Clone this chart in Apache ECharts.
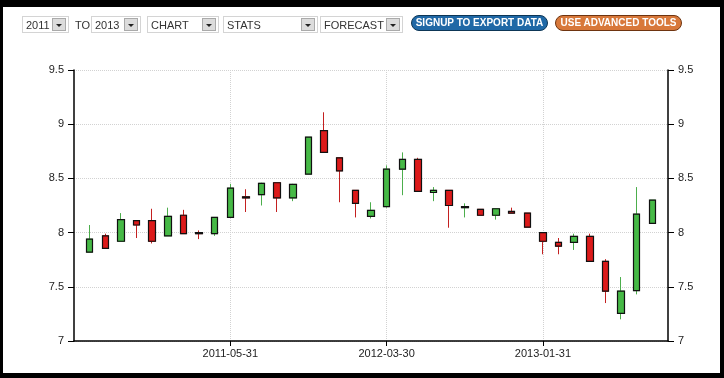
<!DOCTYPE html>
<html>
<head>
<meta charset="utf-8">
<script src="https://cdn.jsdelivr.net/npm/echarts@6/dist/echarts.min.js"></script>
<style>
  html, body { margin: 0; padding: 0; background: #000; }
  #frame { position: absolute; left: 3px; top: 7px; right: 4px; bottom: 5px; background: #fff; }
  #container { position: absolute; left: 0; top: 0; width: 724px; height: 378px; }
  .bar { position: absolute; left: 0; top: 0; width: 724px; height: 40px; font-family: "Liberation Sans", Arial, sans-serif; font-size: 11px; color: #333; }
  .sel { position: absolute; top: 16px; height: 17px; border: 1px solid #d4d4d4; background: #fff; box-sizing: border-box; }
  .sel span { position: absolute; left: 3px; top: 1px; line-height: 14px; }
  .sel i { position: absolute; right: 2px; top: 1px; width: 14px; height: 13px; background: #dcdcdc; border: 1px solid #aaa; box-sizing: border-box; }
  .sel i:after { content: ""; position: absolute; left: 3px; top: 5px; border-left: 3px solid transparent; border-right: 3px solid transparent; border-top: 3px solid #222; }
  .txt { position: absolute; top: 18px; line-height: 14px; }
  .pill { position: absolute; top: 15px; height: 16px; border-radius: 8px; box-sizing: border-box; color: #fff; font-weight: bold; font-size: 10px; line-height: 14px; text-align: center; }
</style>
</head>
<body>
<div id="frame"></div>
<div id="container"></div>
<div class="bar">
  <div class="sel" style="left:22px;width:47px"><span>2011</span><i></i></div>
  <div class="txt" style="left:75px">TO</div>
  <div class="sel" style="left:91px;width:50px"><span>2013</span><i></i></div>
  <div class="sel" style="left:147px;width:72px"><span>CHART</span><i></i></div>
  <div class="sel" style="left:223px;width:95px"><span>STATS</span><i></i></div>
  <div class="sel" style="left:320px;width:83px"><span>FORECAST</span><i></i></div>
  <div class="pill" style="left:411px;width:137px;background:#1f68a6;border:1px solid #0d3656">SIGNUP TO EXPORT DATA</div>
  <div class="pill" style="left:555px;width:127px;background:#d8783a;border:1px solid #6e3410">USE ADVANCED TOOLS</div>
</div>
<script>
// monthly candles: open, close, low, high
const dates = [
  '2010-08-31', '2010-09-30', '2010-10-29', '2010-11-30', '2010-12-31',
  '2011-01-31', '2011-02-28', '2011-03-31', '2011-04-29', '2011-05-31',
  '2011-06-30', '2011-07-29', '2011-08-31', '2011-09-30', '2011-10-31',
  '2011-11-30', '2011-12-30', '2012-01-31', '2012-02-29', '2012-03-30',
  '2012-04-30', '2012-05-31', '2012-06-29', '2012-07-31', '2012-08-31',
  '2012-09-28', '2012-10-31', '2012-11-30', '2012-12-31', '2013-01-31',
  '2013-02-28', '2013-03-28', '2013-04-30', '2013-05-31', '2013-06-28',
  '2013-07-31', '2013-08-30'
];
const opens  = [7.82, 7.97, 7.92, 8.11, 8.11, 7.97, 8.16, 8.00, 7.99, 8.14,
                8.33, 8.35, 8.46, 8.32, 8.54, 8.94, 8.69, 8.39, 8.15, 8.24,
                8.585, 8.675, 8.37, 8.39, 8.23, 8.215, 8.16, 8.195, 8.18, 8.00,
                7.91, 7.91, 7.965, 7.735, 7.255, 7.465, 8.085];
const closes = [7.94, 7.855, 8.12, 8.07, 7.92, 8.15, 7.99, 7.99, 8.14, 8.41,
                8.32, 8.455, 8.32, 8.445, 8.88, 8.74, 8.57, 8.27, 8.205, 8.585,
                8.675, 8.38, 8.39, 8.25, 8.24, 8.16, 8.22, 8.18, 8.05, 7.92,
                7.875, 7.965, 7.735, 7.46, 7.46, 8.17, 8.30];
const lows   = [7.82, 7.85, 7.92, 7.95, 7.90, 7.97, 7.99, 7.94, 7.97, 8.14,
                8.19, 8.25, 8.19, 8.29, 8.54, 8.74, 8.28, 8.14, 8.13, 8.23,
                8.345, 8.38, 8.29, 8.045, 8.14, 8.16, 8.12, 8.18, 8.05, 7.80,
                7.80, 7.84, 7.735, 7.35, 7.20, 7.43, 8.085];
const highs  = [8.07, 7.99, 8.18, 8.11, 8.22, 8.23, 8.21, 8.02, 8.14, 8.45,
                8.40, 8.46, 8.46, 8.45, 8.88, 9.11, 8.69, 8.39, 8.28, 8.62,
                8.74, 8.69, 8.42, 8.39, 8.27, 8.215, 8.22, 8.23, 8.18, 8.00,
                7.95, 7.99, 7.99, 7.755, 7.59, 8.42, 8.30];
const labelDates = ['2011-05-31', '2012-03-30', '2013-01-31'];
const yTicks = { min: 7, max: 9.5, step: 0.5 };

const upColor = '#46b946';
const downColor = '#dc1a1a';

// empty category at each end so the first/last candles sit one step in from the axes
const categories = [''].concat(dates, [' ']);
const showAt = (i, v) => labelDates.indexOf(v) >= 0;

const wickData = dates.map((d, i) => [d, opens[i], closes[i], lows[i], highs[i]]);
const bodyData = dates.map((d, i) => [d, opens[i], closes[i],
  Math.min(opens[i], closes[i]), Math.max(opens[i], closes[i])]);

const font = '"Liberation Sans", Arial, sans-serif';

const yAxisBase = {
  type: 'value',
  min: yTicks.min,
  max: yTicks.max,
  interval: yTicks.step,
  axisLine: { show: true, lineStyle: { color: '#000', width: 1.5 } },
  axisTick: { show: true, length: 6, lineStyle: { color: '#000' } },
  axisLabel: { color: '#222', fontSize: 11, fontFamily: font, margin: 10 }
};

const chart = echarts.init(document.getElementById('container'));
chart.setOption({
  animation: false,
  backgroundColor: 'transparent',
  grid: { left: 74, right: 56, top: 70, bottom: 37 },
  xAxis: {
    type: 'category',
    data: categories,
    boundaryGap: false,
    axisLine: { lineStyle: { color: '#000', width: 1.5 } },
    axisTick: { interval: showAt, length: 5, lineStyle: { color: '#000' } },
    axisLabel: { interval: showAt, color: '#222', fontSize: 11, fontFamily: font, margin: 7 },
    splitLine: { show: true, interval: showAt, lineStyle: { color: '#d2d2d2', type: 'dotted' } }
  },
  yAxis: [
    Object.assign({}, yAxisBase, {
      position: 'left',
      splitLine: { show: true, lineStyle: { color: '#d2d2d2', type: 'dotted' } }
    }),
    Object.assign({}, yAxisBase, {
      position: 'right',
      splitLine: { show: false }
    })
  ],
  series: [
    {
      name: 'wick',
      type: 'candlestick',
      data: wickData,
      encode: { x: 0, y: [1, 2, 3, 4] },
      barWidth: 7,
      itemStyle: {
        color: upColor, color0: downColor,
        borderColor: '#4cae4c', borderColor0: '#c42020',
        borderWidth: 1
      }
    },
    {
      name: 'body',
      type: 'candlestick',
      data: bodyData,
      encode: { x: 0, y: [1, 2, 3, 4] },
      barWidth: 7,
      itemStyle: {
        color: upColor, color0: downColor,
        borderColor: '#111', borderColor0: '#111',
        borderWidth: 1.2
      }
    }
  ]
});
</script>
</body>
</html>
